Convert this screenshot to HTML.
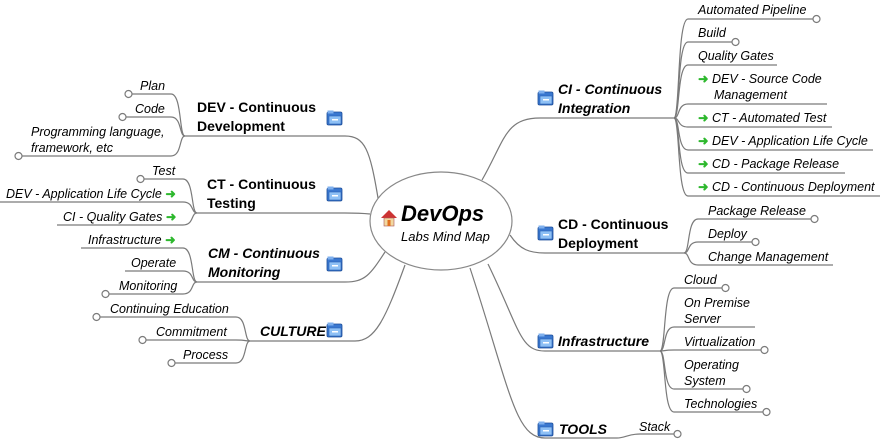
<!DOCTYPE html>
<html><head><meta charset="utf-8"><style>
html,body{margin:0;padding:0;background:#fff;}
svg{display:block;}
text{font-family:"Liberation Sans",Arial,sans-serif;fill:#000;}
.l{font-size:12.5px;font-style:italic;}
.m{font-size:14px;font-weight:bold;}
.mi{font-size:14px;font-weight:bold;font-style:italic;}
.ar{fill:#2db82d;font-style:normal;font-weight:bold;}
</style></head><body>
<svg id="s" width="881" height="440" viewBox="0 0 881 440">
<g id="g" fill="none" stroke="#7a7a7a" stroke-width="1.2"></g>
<ellipse cx="441" cy="221" rx="71" ry="49" fill="#fff" stroke="#888" stroke-width="1.2"/>
<g transform="translate(381,210)">
<polygon points="0,8 8,0 16,8" fill="#c33"/>
<rect x="3" y="8" width="10" height="8" fill="#f2d8a0" stroke="#a55" stroke-width="0.6"/>
<rect x="6.5" y="10" width="3" height="6" fill="#e07020"/>
</g>
<text x="401" y="221" style="font-size:22px;font-weight:bold;font-style:italic">DevOps</text>
<text x="401" y="241" style="font-size:13px;font-style:italic">Labs Mind Map</text>

<text class="mi" x="558" y="94">CI - Continuous</text>
<text class="mi" x="558" y="113">Integration</text>
<text class="l" x="698" y="14">Automated Pipeline</text>
<text class="l" x="698" y="37">Build</text>
<text class="l" x="698" y="60">Quality Gates</text>
<text class="l" x="698" y="83"><tspan class="ar">➜</tspan>  DEV - Source Code</text>
<text class="l" x="714" y="99">Management</text>
<text class="l" x="698" y="122"><tspan class="ar">➜</tspan>  CT - Automated Test</text>
<text class="l" x="698" y="145"><tspan class="ar">➜</tspan>  DEV - Application Life Cycle</text>
<text class="l" x="698" y="168"><tspan class="ar">➜</tspan>  CD - Package Release</text>
<text class="l" x="698" y="191"><tspan class="ar">➜</tspan>  CD - Continuous Deployment</text>
<text class="m" x="558" y="229">CD - Continuous</text>
<text class="m" x="558" y="248">Deployment</text>
<text class="l" x="708" y="215">Package Release</text>
<text class="l" x="708" y="238">Deploy</text>
<text class="l" x="708" y="261">Change Management</text>
<text class="mi" x="558" y="346">Infrastructure</text>
<text class="l" x="684" y="284">Cloud</text>
<text class="l" x="684" y="307">On Premise</text>
<text class="l" x="684" y="323">Server</text>
<text class="l" x="684" y="346">Virtualization</text>
<text class="l" x="684" y="369">Operating</text>
<text class="l" x="684" y="385">System</text>
<text class="l" x="684" y="408">Technologies</text>
<text class="mi" x="559" y="434">TOOLS</text>
<text class="l" x="639" y="431">Stack</text>

<text class="m" x="197" y="112">DEV - Continuous</text>
<text class="m" x="197" y="131">Development</text>
<text class="l" x="140" y="90">Plan</text>
<text class="l" x="135" y="113">Code</text>
<text class="l" x="31" y="136">Programming language,</text>
<text class="l" x="31" y="152">framework, etc</text>
<text class="m" x="207" y="189">CT - Continuous</text>
<text class="m" x="207" y="208">Testing</text>
<text class="l" x="152" y="175">Test</text>
<text class="l" x="6" y="198">DEV - Application Life Cycle <tspan class="ar">➜</tspan></text>
<text class="l" x="63" y="221">CI - Quality Gates <tspan class="ar">➜</tspan></text>
<text class="mi" x="208" y="258">CM - Continuous</text>
<text class="mi" x="208" y="277">Monitoring</text>
<text class="l" x="88" y="244">Infrastructure <tspan class="ar">➜</tspan></text>
<text class="l" x="131" y="267">Operate</text>
<text class="l" x="119" y="290">Monitoring</text>
<text class="mi" x="260" y="336">CULTURE</text>
<text class="l" x="110" y="313">Continuing Education</text>
<text class="l" x="156" y="336">Commitment</text>
<text class="l" x="183" y="359">Process</text>
<g id="ic"></g>
</svg>
<script>
var g=document.getElementById('g'),ic=document.getElementById('ic'),NS='http://www.w3.org/2000/svg';
function p(d){var e=document.createElementNS(NS,'path');e.setAttribute('d',d);g.appendChild(e);}
function c(x,y){var e=document.createElementNS(NS,'circle');e.setAttribute('cx',x);e.setAttribute('cy',y);e.setAttribute('r',3.5);e.setAttribute('fill','#fff');g.appendChild(e);}
function leaf(bx,by,ly,ex,circ){var d=ex>bx?1:-1;var sx=bx+d*14;
 p('M'+bx+','+by+' C'+(bx+d*6)+','+by+' '+(bx+d*3)+','+ly+' '+sx+','+ly+' H'+ex); if(circ)c(ex+d*3.5,ly);}
function icon(x,y){ic.innerHTML+='<g transform="translate('+x+','+y+')"><rect x="0" y="2" width="15" height="13" rx="1.5" fill="#3a78d0" stroke="#1e4f9a" stroke-width="0.8"/><rect x="0.5" y="0.5" width="6" height="3" fill="#7fb0ee"/><rect x="2" y="6" width="12" height="8" fill="#8ec0f5" stroke="#2a62b8" stroke-width="0.6"/><rect x="5" y="9" width="6" height="1.5" fill="#fff"/></g>';}
p('M482,180 C505,140 505,118 540,118 H674');
p('M510,235 C520,250 530,253 545,253 H684');
p('M488,264 C520,330 520,351 545,351 H660');
p('M470,268 C510,390 515,438 545,438 H617 C625,438 628,434 640,434 H674');c(677.5,434);
p('M378,198 C370,150 365,136 345,136 H185');
p('M370,214 C360,213 355,213 345,213 H197');
p('M385,252 C370,275 365,282 345,282 H197');
p('M405,265 C385,320 375,341 355,341 H250');
leaf(674,118,19,813,1);leaf(674,118,42,732,1);leaf(674,118,65,777,0);leaf(674,118,104,827,0);
leaf(674,118,127,832,0);leaf(674,118,150,873,0);leaf(674,118,173,845,0);leaf(674,118,196,880,0);
leaf(684,253,219,811,1);leaf(684,253,242,752,1);leaf(684,253,265,833,0);
leaf(660,351,288,722,1);leaf(660,351,327,755,0);leaf(660,351,350,761,1);leaf(660,351,389,743,1);leaf(660,351,412,763,1);
leaf(185,136,94,132,1);leaf(185,136,117,126,1);leaf(185,136,156,22,1);
leaf(197,213,179,144,1);leaf(197,213,202,0,0);leaf(197,213,225,57,0);
leaf(197,282,248,81,0);leaf(197,282,271,125,0);leaf(197,282,294,109,1);
leaf(250,341,317,100,1);leaf(250,341,340,146,1);leaf(250,341,363,175,1);
icon(327,110);icon(327,186);icon(327,256);icon(327,322);
icon(538,90);icon(538,225);icon(538,333);icon(538,421);
</script>
</body></html>
